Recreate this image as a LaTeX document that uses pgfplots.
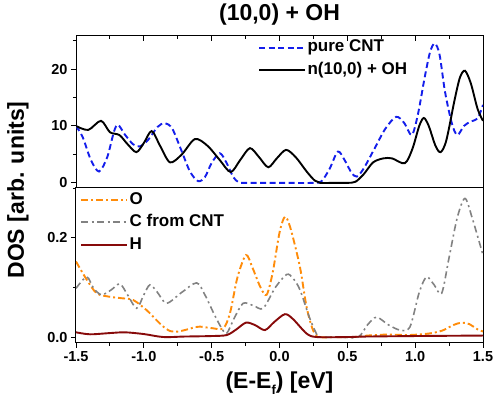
\documentclass[border=0pt]{standalone}
\usepackage{pgfplots}
\pgfplotsset{compat=1.18}
\usepackage{fontspec}
\setmainfont{Liberation Sans}

\definecolor{cntblue}{RGB}{20,30,235}
\definecolor{oorange}{RGB}{255,140,10}
\definecolor{cgray}{RGB}{130,130,130}
\definecolor{hred}{RGB}{135,10,10}

\pgfplotsset{
  dosaxis/.style={
    scale only axis,
    width=407pt,
    xmin=-1.5, xmax=1.5,
    xtick={-1.5,-1,...,1.5},
    minor xtick={-1.25,-0.75,...,1.25},
    axis line style={line width=1pt},
    tick style={line width=0.9pt, black},
    major tick length=5pt,
    minor tick length=3pt,
    tick align=outside,
    ytick pos=left,
    /pgf/number format/assume math mode=true,
    ticklabel style={font=\fontsize{14.5}{16}\selectfont\bfseries},
    legend cell align=left,
    legend style={draw=none, fill=none, inner sep=0pt,
      font=\fontsize{17}{19}\selectfont\bfseries,
      nodes={inner sep=1.5pt, text height=12pt, text depth=3.5pt},
      row sep=4pt},
    legend image code/.code={\draw[##1] (0pt,0pt) -- (46pt,0pt);},
  },
}

\begin{document}
\begin{tikzpicture}
\path[use as bounding box] (-76pt,-60pt) rectangle (419pt,343pt);

% upper panel: total DOS
\begin{axis}[dosaxis,
  at={(0pt,155pt)}, anchor=south west,
  height=152pt,
  ymin=-0.9, ymax=25.8,
  ytick={0,10,20}, minor ytick={5,15,25},
  xtick pos=right, xticklabels={},
  every major x tick/.append style={yshift=-5pt},
  every minor x tick/.append style={yshift=-3pt},
  legend style={at={(0.447,0.985)}, anchor=north west},
]
\addplot[cntblue, line width=1.9pt, dash pattern=on 6pt off 3.5pt, smooth] coordinates {
(-1.5,10.0) (-1.45,8.0) (-1.39,4.0) (-1.33,2.0) (-1.27,4.5) (-1.22,9.0) (-1.19,10.2)
(-1.14,8.5) (-1.08,6.8) (-1.03,6.4) (-0.97,7.5) (-0.9,9.8) (-0.845,10.5) (-0.79,9.5)
(-0.72,5.5) (-0.66,2.0) (-0.6,0.3) (-0.55,1.0) (-0.5,3.5) (-0.44,5.2) (-0.39,3.5)
(-0.34,1.0) (-0.3,0.1) (-0.25,0) (0,0) (0.25,0) (0.31,0.3) (0.37,2.5) (0.43,5.5)
(0.48,4.0) (0.53,1.8) (0.57,1.1) (0.62,2.5) (0.7,6.0) (0.78,9.5) (0.86,11.6)
(0.92,10.5) (0.975,8.4) (1.02,12) (1.07,18.5) (1.11,23) (1.145,24.5) (1.18,22.5)
(1.22,16) (1.27,10.5) (1.31,8.4) (1.36,10) (1.41,10.8) (1.46,11.3) (1.5,13.7)
};
\addlegendentry{pure CNT}
\addplot[black, line width=1.9pt, smooth] coordinates {
(-1.5,10.0) (-1.41,9.3) (-1.316,10.9) (-1.25,8.9) (-1.18,8.4) (-1.12,6.8) (-1.055,5.4)
(-1.0,7.0) (-0.942,9.1) (-0.88,6.5) (-0.807,3.6) (-0.72,5.0) (-0.623,7.7) (-0.53,6.5)
(-0.44,4.0) (-0.36,1.9) (-0.29,4.0) (-0.218,6.1) (-0.15,4.5) (-0.083,2.75) (-0.02,4.3)
(0.048,5.8) (0.12,4.5) (0.2,2.0) (0.26,0.4) (0.3,0) (0.4,0) (0.5,0) (0.56,0.2)
(0.62,1.5) (0.69,3.6) (0.765,4.3) (0.83,4.3) (0.924,3.45) (0.98,6.0) (1.03,10.0)
(1.064,11.4) (1.1,10.0) (1.15,6.5) (1.188,5.4) (1.23,7.5) (1.29,14.5) (1.33,18.5)
(1.367,19.7) (1.41,17.5) (1.46,13.0) (1.5,10.9)
};
\addlegendentry{n(10,0) + OH}
\end{axis}

% lower panel: projected DOS
\begin{axis}[dosaxis,
  at={(0pt,0pt)}, anchor=south west,
  height=155pt,
  ymin=-0.012, ymax=0.30,
  ytick={0,0.2}, minor ytick={0.1,0.3},
  xtick pos=left,
  xticklabel style={/pgf/number format/.cd, fixed, fixed zerofill, precision=1},
  yticklabel style={/pgf/number format/.cd, fixed, fixed zerofill, precision=1},
  legend style={at={(0.01,0.985)}, anchor=north west},
]
\addplot[oorange, line width=1.9pt, dash pattern=on 7pt off 3pt on 2pt off 3pt, smooth] coordinates {
(-1.5,0.152) (-1.42,0.115) (-1.347,0.088) (-1.25,0.081) (-1.16,0.078) (-1.078,0.0745)
(-0.979,0.054) (-0.91,0.035) (-0.857,0.021) (-0.807,0.012) (-0.75,0.011) (-0.684,0.015)
(-0.62,0.02) (-0.586,0.021) (-0.5,0.018) (-0.415,0.0175) (-0.365,0.048) (-0.31,0.12)
(-0.247,0.165) (-0.2,0.14) (-0.14,0.1) (-0.095,0.085) (-0.05,0.13) (0.0,0.21)
(0.04,0.242) (0.08,0.22) (0.15,0.142) (0.2,0.06) (0.25,0.012) (0.3,0.0) (0.4,0)
(0.55,0.0) (0.65,0.003) (0.8,0.005) (0.95,0.004) (1.1,0.007) (1.2,0.013) (1.28,0.024)
(1.342,0.029) (1.4,0.026) (1.45,0.017) (1.5,0.011)
};
\addlegendentry{O}
\addplot[cgray, line width=1.6pt, dash pattern=on 7pt off 3.5pt on 2pt off 3.5pt, smooth] coordinates {
(-1.5,0.098) (-1.421,0.121) (-1.37,0.098) (-1.311,0.085) (-1.24,0.095) (-1.176,0.107)
(-1.12,0.085) (-1.053,0.058) (-1.0,0.085) (-0.955,0.105) (-0.9,0.09) (-0.832,0.068)
(-0.72,0.09) (-0.611,0.109) (-0.55,0.085) (-0.48,0.045) (-0.426,0.0175) (-0.389,0.0075)
(-0.33,0.04) (-0.267,0.068) (-0.19,0.063) (-0.12,0.058) (-0.03,0.1) (0.053,0.126)
(0.1,0.118) (0.151,0.095) (0.22,0.04) (0.27,0.008) (0.3,0) (0.45,0) (0.58,0.0)
(0.65,0.025) (0.716,0.040) (0.8,0.025) (0.888,0.014) (0.961,0.02) (1.03,0.09)
(1.084,0.121) (1.14,0.105) (1.195,0.088) (1.25,0.16) (1.31,0.24) (1.367,0.279)
(1.42,0.24) (1.5,0.165)
};
\addlegendentry{C from CNT}
\addplot[hred, line width=1.9pt, smooth] coordinates {
(-1.5,0.0095) (-1.397,0.0055) (-1.25,0.008) (-1.139,0.0095) (-1.0,0.006) (-0.857,0.0)
(-0.7,0.001) (-0.5,0.002) (-0.389,0.004) (-0.32,0.015) (-0.247,0.029) (-0.18,0.024)
(-0.107,0.014) (-0.04,0.03) (0.04,0.046) (0.1,0.036) (0.2,0.007) (0.274,0.0) (0.5,0.0)
(0.642,0.001) (1.0,0.002) (1.5,0.003)
};
\addlegendentry{H}
\end{axis}

\node[font=\fontsize{23}{26}\selectfont\bfseries] at (203.5pt,328pt) {(10,0) + OH};
\node[font=\fontsize{23}{26}\selectfont\bfseries, rotate=90] at (-58pt,153pt) {DOS [arb. units]};
\node[font=\fontsize{23}{26}\selectfont\bfseries] at (203.5pt,-40pt)
  {(E-E\raisebox{-6pt}{\fontsize{13}{14}\selectfont f}) [eV]};
\end{tikzpicture}
\end{document}
